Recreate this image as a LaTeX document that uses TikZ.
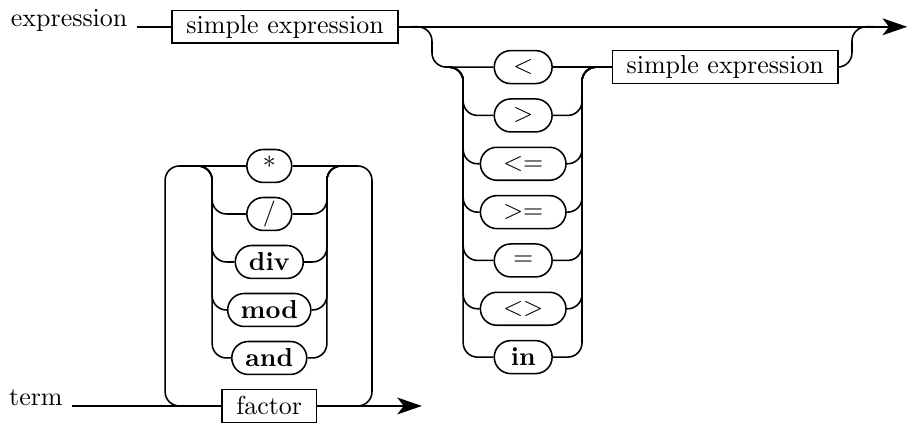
\documentclass[tikz,border=0pt]{standalone}
\usepackage{tikz}
\usetikzlibrary{arrows.meta}

\tikzset{
  box/.style={draw, rectangle, minimum height=12.7pt, inner xsep=5.5pt, inner ysep=0pt},
  op/.style={draw, rectangle, rounded corners=6.35pt, minimum height=12.7pt, inner xsep=5pt, inner ysep=0pt},
  rail/.style={rounded corners=5.5pt}
}

\begin{document}
\begin{tikzpicture}[x=0.65cm, y=0.65cm, line width=0.6pt,
  >={Stealth[length=9.5pt,width=6.5pt,inset=2.5pt]}]
\useasboundingbox (0,-0.354) rectangle (18.917,8.458);

% expression
\node[anchor=base east] (expr) at (2.85,7.9) {expression};
\node[box] (se1) at (5.94,7.9) {simple expression};
\node[box] (se2) at (15.11,7.06) {simple expression};
\coordinate (exprend) at (18.9,7.9);
\coordinate (split) at (8.6,7.9);
\coordinate (join) at (18.2,7.9);
\coordinate (lsplit) at (9.3,7.06);
\coordinate (lcol) at (9.65,7.06);
\coordinate (rcol) at (12.125,7.06);
\coordinate (rjoin) at (12.6,7.06);
\draw (expr.base east) -- (se1);
\draw[->] (se1) -- (exprend);
% relational operators
\foreach \txt/\w [count=\i] in {$<$/22.3pt, $>$/22.3pt, $<=$/33pt, $>=$/33pt, $=$/22.3pt, $<>$/33pt, \textbf{in}/22.3pt}
  \node[op, minimum width=\w] (rel\i) at (10.9,8.067-1.007*\i) {\txt};
\draw[rail] (split) -| (9.0,7.06) -- (rel1);
\draw (rel1) -- (se2);
\foreach \i in {2,...,7} {
  \draw[rail] (lsplit) -- (lcol) |- (rel\i);
  \draw[rail] (rel\i) -| (rcol) -- (rjoin);
}
\draw[rail] (se2) -| (17.75,7.9) -- (join);

% term
\node[anchor=base east] (term) at (1.5,0) {term};
\node[box] (factor) at (5.61,0) {factor};
\coordinate (termend) at (8.79,0);
\coordinate (loopin) at (4.0,0);
\coordinate (loopout) at (7.3,0);
\coordinate (itop) at (3.9,5);
\coordinate (ilcol) at (4.42,5);
\coordinate (ircol) at (6.81,5);
\coordinate (ijoin) at (7.3,5);
\draw (term.base east) -- (factor);
\draw[->] (factor) -- (termend);
% multiplying operators
\foreach \txt/\w [count=\i] in {*/17.3pt, {/}/17.3pt, \textbf{div}/26.2pt, \textbf{mod}/31.6pt, \textbf{and}/28.9pt}
  \node[op, minimum width=\w] (mop\i) at (5.61,6-\i) {\txt};
\draw[rail] (mop1) -| (3.44,0) -- (loopin);
\draw[rail] (loopout) -| (7.75,5) -- (mop1);
\foreach \i in {2,...,5} {
  \draw[rail] (itop) -- (ilcol) |- (mop\i);
  \draw[rail] (mop\i) -| (ircol) -- (ijoin);
}
\end{tikzpicture}
\end{document}
